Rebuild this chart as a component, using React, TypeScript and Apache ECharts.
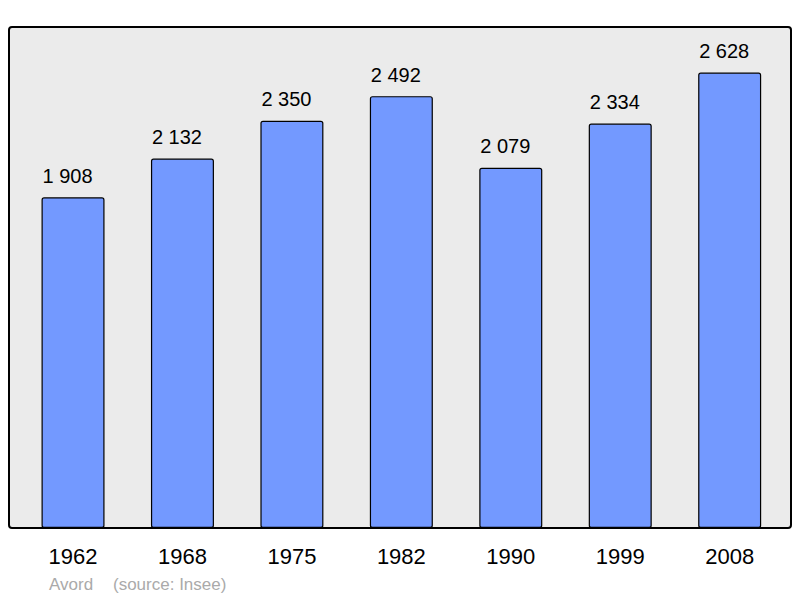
import React, { useEffect, useRef } from "react";
import * as echarts from "echarts";

const years = ["1962", "1968", "1975", "1982", "1990", "1999", "2008"];
const population = [1908, 2132, 2350, 2492, 2079, 2334, 2628];
const townName = "Avord";
const sourceNote = "(source: Insee)";

const fmt = (v: number) => String(v).replace(/\B(?=(\d{3})+(?!\d))/g, " ");

export default function App() {
  const ref = useRef<HTMLDivElement>(null);
  useEffect(() => {
    if (!ref.current) return;
    const chart = echarts.init(ref.current, null, { renderer: "svg" });
    chart.setOption({
      animation: false,
      backgroundColor: "#ffffff",
      textStyle: { fontFamily: "Liberation Sans" },
      graphic: [
        {
          type: "rect",
          z: 0,
          shape: { x: 9, y: 27, width: 782, height: 501, r: 3 },
          style: { fill: "#ebebeb", stroke: "#000000", lineWidth: 2 },
        },
        {
          type: "text",
          left: 49,
          top: 576,
          style: { text: townName, fill: "#aaaaaa", font: "17px Liberation Sans" },
        },
        {
          type: "text",
          left: 113,
          top: 576,
          style: { text: sourceNote, fill: "#aaaaaa", font: "17px Liberation Sans" },
        },
      ],
      grid: { left: 18.3, right: 15.6, top: 27, bottom: 70 },
      xAxis: {
        type: "category",
        data: years,
        axisLine: { show: false },
        axisTick: { show: false },
        axisLabel: { color: "#000000", fontSize: 22, margin: 17, fontFamily: "Liberation Sans" },
      },
      yAxis: {
        type: "value",
        min: 0,
        max: 2891,
        show: false,
        splitLine: { show: false },
      },
      series: [
        {
          type: "bar",
          data: population,
          barWidth: 63,
          itemStyle: {
            color: "#7399ff",
            borderColor: "#000000",
            borderWidth: 1.2,
            borderRadius: 2,
          },
          label: {
            show: true,
            position: "top",
            distance: 11.5,
            offset: [-5.5, 0],
            color: "#000000",
            fontSize: 20,
            fontFamily: "Liberation Sans",
            formatter: (p: any) => fmt(p.value),
          },
        },
      ],
    });
    return () => chart.dispose();
  }, []);
  return (
    <div
      ref={ref}
      style={{ position: "absolute", left: 0, top: 0, width: 800, height: 598 }}
    />
  );
}
